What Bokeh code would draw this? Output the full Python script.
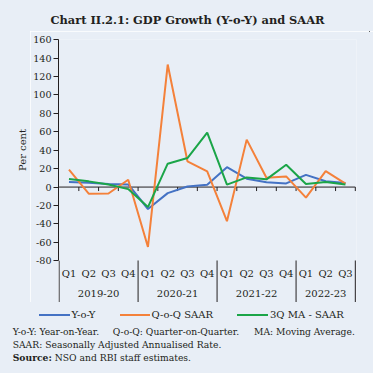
from bokeh.plotting import figure
from bokeh.layouts import column, row
from bokeh.models import Range1d, FixedTicker, Div
from bokeh.core.properties import value
from bokeh.embed import file_html
from bokeh.resources import INLINE

# ---- data ----
quarters = ["Q1", "Q2", "Q3", "Q4", "Q1", "Q2", "Q3", "Q4",
            "Q1", "Q2", "Q3", "Q4", "Q1", "Q2", "Q3"]
years = ["2019-20", "2020-21", "2021-22", "2022-23"]
year_sizes = [4, 4, 4, 3]
yoy = [5.4, 4.6, 3.3, 2.9, -23.8, -6.6, 0.7, 2.5, 21.6, 9.1, 5.2, 4.0, 13.2, 6.3, 4.4]
qoq_saar = [18.9, -7.2, -7.0, 8.0, -65.0, 133.0, 28.0, 17.0, -37.0, 51.5, 10.2, 11.6, -11.5, 17.4, 3.7]
ma_saar = [8.7, 6.2, 2.9, -2.2, -21.7, 25.4, 31.5, 59.0, 2.6, 10.5, 8.4, 24.3, 3.3, 5.4, 2.9]
y_ticks = [-80, -60, -40, -20, 0, 20, 40, 60, 80, 100, 120, 140, 160]

title_text = "Chart II.2.1: GDP Growth (Y-o-Y) and SAAR"
y_label = "Per cent"
series_names = ["Y-o-Y", "Q-o-Q SAAR", "3Q MA - SAAR"]
notes = ["Y-o-Y: Year-on-Year.", "Q-o-Q: Quarter-on-Quarter.", "MA: Moving Average."]
note2 = "SAAR: Seasonally Adjusted Annualised Rate."
source_head = "Source:"
source_text = "NSO and RBI staff estimates."

BG = "#E8EEF6"
INK = "#231F20"
SERIF = "DejaVu Serif"
colors = ["#4472C4", "#F4813A", "#1BA548"]
W = 373
LAB_W = 30

n = len(quarters)
xs = [i + 0.5 for i in range(n)]

# ---- title strip (page y 0..31) ----
title_html = (
    f'<div style="position:relative;width:{W}px;height:31px;">'
    f'<div style="position:absolute;left:0;width:375px;top:12px;line-height:16px;text-align:center;'
    f'font-family:\'{SERIF}\';font-weight:bold;font-size:11.4px;color:{INK};white-space:nowrap;">'
    f'{title_text}</div></div>'
)
top = Div(text=title_html, width=W, height=31, margin=0,
          styles={"background-color": BG, "overflow": "hidden"})

# ---- y-axis title strip (page x 0..30, y 31..302) ----
ylab_html = (
    f'<div style="position:relative;width:{LAB_W}px;height:271px;">'
    f'<div style="position:absolute;left:23.3px;top:119px;transform:translate(-50%,-50%) rotate(-90deg);'
    f'font-family:\'{SERIF}\';font-size:10px;line-height:12px;color:{INK};white-space:nowrap;">'
    f'{y_label}</div></div>'
)
ylab = Div(text=ylab_html, width=LAB_W, height=271, margin=0,
           styles={"background-color": BG, "overflow": "hidden"})

# ---- main chart ----
p = figure(width=W - LAB_W, height=271, output_backend="svg", toolbar_location=None,
           x_range=Range1d(-0.03, n + 0.06), y_range=Range1d(-125.3, 160.2), x_axis_location=None,
           min_border_left=28, min_border_right=17, min_border_top=8, min_border_bottom=0,
           background_fill_color=BG, border_fill_color=BG, outline_line_color=None)
p.xgrid.visible = False
p.ygrid.visible = False

ax = p.yaxis[0]
ax.ticker = FixedTicker(ticks=y_ticks)
ax.major_label_overrides = {t: str(t) for t in y_ticks}
ax.bounds = (y_ticks[0], y_ticks[-1])
ax.axis_line_color = INK
ax.major_tick_line_color = INK
ax.major_tick_out = 5
ax.major_tick_in = 0
ax.minor_tick_line_color = None
ax.major_label_standoff = 2
ax.major_label_text_font = SERIF
ax.major_label_text_font_size = "9.6px"
ax.major_label_text_color = INK

# y-axis line continued through the category-label area
p.segment(x0=[0], y0=[y_ticks[0]], x1=[0], y1=[-126], line_color=INK, line_width=1)

# zero line with category ticks
p.segment(x0=[0], y0=[0], x1=[n], y1=[0], line_color=INK, line_width=1)
p.segment(x0=list(range(1, n + 1)), y0=[0] * n, x1=list(range(1, n + 1)), y1=[-4.3] * n,
          line_color=INK, line_width=1)

# category labels
p.text(x=xs, y=[-93.5] * n, text=quarters, text_align="center", text_baseline="middle",
       text_font=value(SERIF), text_font_size="10px", text_color=INK)
bounds = []
centers = []
c = 0
for s in year_sizes:
    centers.append(c + s / 2)
    c += s
    bounds.append(c)
p.text(x=centers, y=[-115.2] * len(years), text=years, text_align="center", text_baseline="middle",
       text_font=value(SERIF), text_font_size="10px", text_color=INK)
p.segment(x0=bounds, y0=[-79.7] * len(bounds), x1=bounds, y1=[-126] * len(bounds),
          line_color=INK, line_width=1)

for vals, col in zip([yoy, qoq_saar, ma_saar], colors):
    p.line(xs, vals, line_color=col, line_width=2)

# ---- legend and notes strip (page y 302..373) ----
sw_left = [39.3, 120.0, 237.3]
sw_width = [31, 29.5, 31]
txt_left = [71.5, 151.5, 270.0]
parts = [f'<div style="position:relative;width:{W}px;height:71px;font-family:\'{SERIF}\';'
         f'color:{INK};white-space:nowrap;">']
for nm, col, sl, sw, tl in zip(series_names, colors, sw_left, sw_width, txt_left):
    parts.append(f'<div style="position:absolute;left:{sl}px;top:12px;width:{sw}px;height:2px;'
                 f'background:{col};"></div>')
    parts.append(f'<div style="position:absolute;left:{tl}px;top:7px;line-height:12px;'
                 f'font-size:10px;">{nm}</div>')
note_x = [12.7, 112.7, 254]
for t, nx in zip(notes, note_x):
    parts.append(f'<div style="position:absolute;left:{nx}px;top:24px;line-height:12px;'
                 f'font-size:9.2px;">{t}</div>')
parts.append(f'<div style="position:absolute;left:12.7px;top:36.5px;line-height:12px;'
             f'font-size:9.2px;">{note2}</div>')
parts.append(f'<div style="position:absolute;left:12.7px;top:49.5px;line-height:12px;'
             f'font-size:9.2px;"><b>{source_head}</b> {source_text}</div>')
parts.append('</div>')
bot = Div(text="".join(parts), width=W, height=71, margin=0,
          styles={"background-color": BG, "overflow": "hidden"})

middle = row(ylab, p, spacing=0)
layout = column(top, middle, bot, spacing=0)
layout.styles = {"outline": "1.5px solid #333333", "outline-offset": "-4px"}

open("out.html", "w").write(file_html(layout, INLINE))
